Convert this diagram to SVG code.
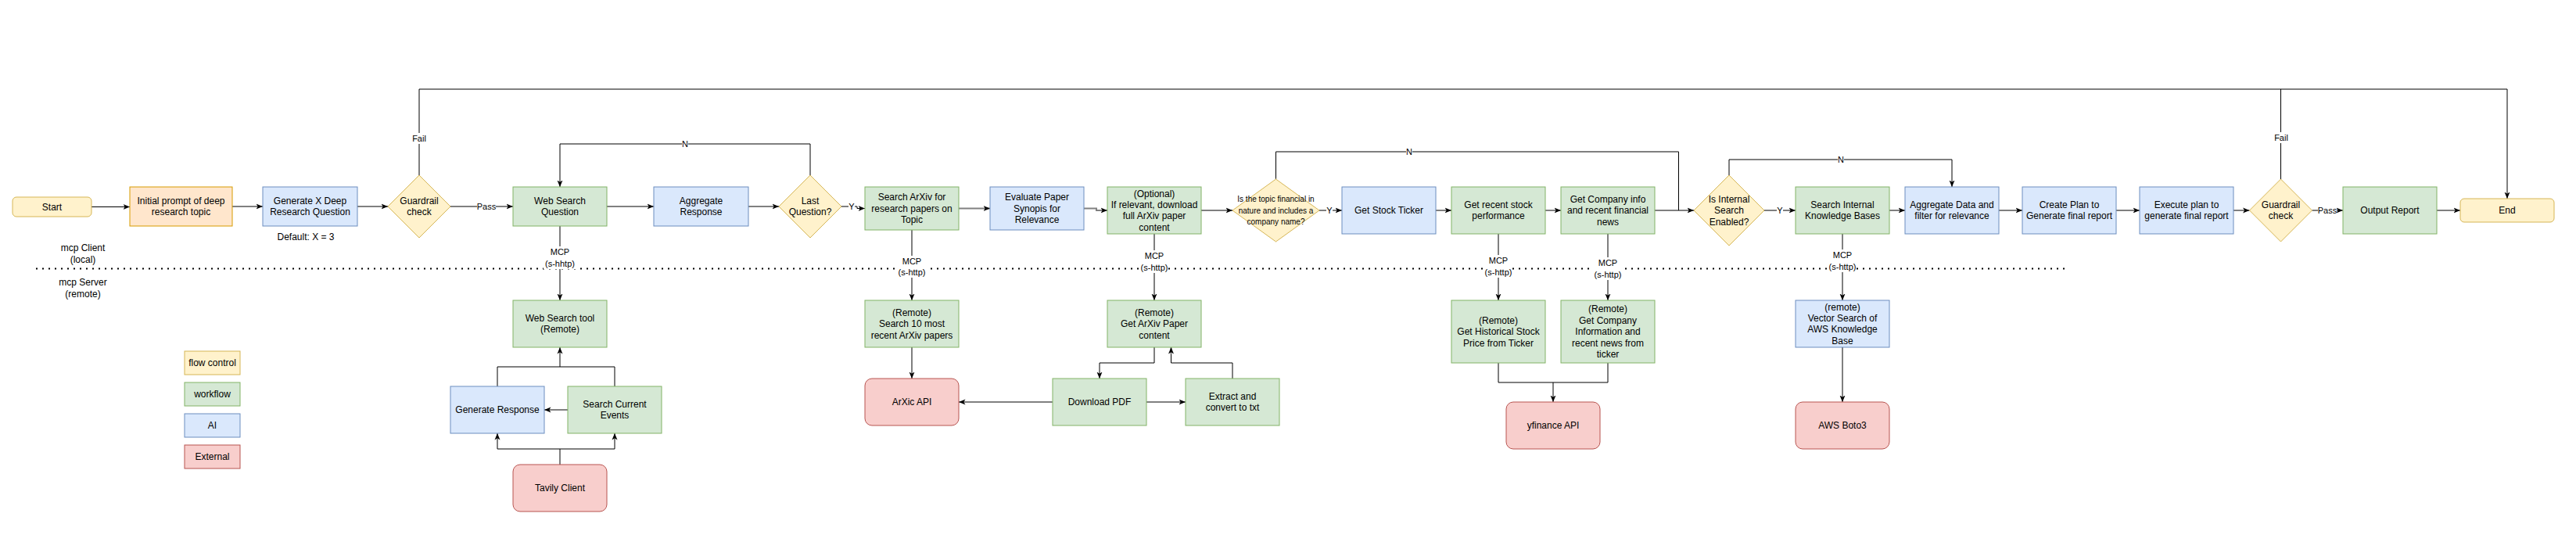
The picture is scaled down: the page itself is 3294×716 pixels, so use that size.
<svg xmlns="http://www.w3.org/2000/svg" width="3294" height="716" viewBox="0 0 3294 716">
<style>
text{font-family:"Liberation Sans",Arial,sans-serif;font-size:12px;text-anchor:middle;fill:#000}
.y{fill:#fff2cc;stroke:#d6b656}
.g{fill:#d5e8d4;stroke:#82b366}
.b{fill:#dae8fc;stroke:#6c8ebf}
.r{fill:#f8cecc;stroke:#b85450}
.o{fill:#ffe6cc;stroke:#d79b00}
.e{fill:none;stroke:#000;stroke-width:1;marker-end:url(#ah)}
.p{fill:none;stroke:#000;stroke-width:1}
.gr{fill:none;stroke:#808080;stroke-width:2;marker-end:url(#ah)}
.lbl{font-size:11px}
.lb{fill:#fff}
.sm{font-size:10px}
</style>
<defs>
<marker id="ah" markerUnits="userSpaceOnUse" markerWidth="9" markerHeight="8" viewBox="0 0 9 8" refX="8.5" refY="4" orient="auto">
<path d="M0,0.5 L8.5,4 L0,7.5 L2.2,4 Z" fill="#000"/>
</marker>
</defs>
<rect width="3294" height="716" fill="#fff"/>
<line x1="46" y1="343.5" x2="2640" y2="343.5" stroke="#000" stroke-width="2" stroke-dasharray="2 6"/>
<g id="connectors">
<path class="e" d="M117,264.5 H166"/>
<path class="e" d="M297,264 H336"/>
<path class="e" d="M457,264 H496"/>
<path class="e" d="M576,264 H656"/>
<path class="e" d="M536,224 V114 H3206 V254"/>
<path class="e" d="M776,264 H836"/>
<path class="e" d="M957,264 H996"/>
<path class="e" d="M1036,224 V184 H716 V239"/>
<path class="e" d="M1076,264 H1096 V266.5 H1106"/>
<path class="gr" d="M1226,266.5 H1266"/>
<path class="gr" d="M1386,266.5 H1402 V269 H1416"/>
<path class="e" d="M1536,269 H1576"/>
<path class="e" d="M1687,269 H1716"/>
<path class="p" d="M1631.5,229 V194 H2146.5 V269"/>
<path class="e" d="M1836,269 H1856"/>
<path class="e" d="M1976,269 H1996"/>
<path class="e" d="M2116,269 H2166"/>
<path class="e" d="M2256,269 H2296"/>
<path class="e" d="M2211,224 V204 H2496 V239"/>
<path class="e" d="M2416,269 H2436"/>
<path class="e" d="M2556,269 H2586"/>
<path class="e" d="M2706,269 H2736"/>
<path class="e" d="M2856,269 H2876.5"/>
<path class="e" d="M2956.5,269 H2996"/>
<path class="p" d="M2916.5,229 V114"/>
<path class="e" d="M3116,269 H3146"/>
<path class="e" d="M716,289 V384"/>
<path class="e" d="M1166,294 V384"/>
<path class="e" d="M1476,299 V384"/>
<path class="e" d="M1916,299 V384"/>
<path class="e" d="M2056,299 V384"/>
<path class="e" d="M2356,299 V384"/>
<path class="e" d="M636,494 V469 H716 V444"/>
<path class="p" d="M786,494 V469 H716"/>
<path class="e" d="M726,524 H696"/>
<path class="e" d="M716,594 V574 H636 V554"/>
<path class="e" d="M716,574 H786 V554"/>
<path class="e" d="M1166,444 V484"/>
<path class="e" d="M1476,444 V464 H1406 V484"/>
<path class="p" d="M1576,484 V464 H1497.5 V452"/>
<path class="gr" d="M1497.5,453 V444"/>
<path class="e" d="M1346,514 H1226"/>
<path class="e" d="M1466,514 H1516"/>
<path class="e" d="M1916,464 V489 H1986 V514"/>
<path class="p" d="M2056,464 V489 H1986"/>
<path class="e" d="M2356,444 V514"/>
<g id="edge-labels">
<rect class="lb" x="527" y="170" width="18" height="14"/><text class="lbl" x="536" y="180.9">Fail</text>
<rect class="lb" x="610" y="257" width="24" height="14"/><text class="lbl" x="622" y="267.9">Pass</text>
<rect class="lb" x="872" y="177" width="8" height="14"/><text class="lbl" x="876" y="187.9">N</text>
<rect class="lb" x="1085" y="257" width="8" height="14"/><text class="lbl" x="1089" y="268.4">Y</text>
<rect class="lb" x="1798" y="187" width="8" height="14"/><text class="lbl" x="1802" y="197.9">N</text>
<rect class="lb" x="1696" y="262" width="8" height="14"/><text class="lbl" x="1700" y="272.9">Y</text>
<rect class="lb" x="2272" y="262" width="8" height="14"/><text class="lbl" x="2276" y="272.9">Y</text>
<rect class="lb" x="2350" y="197" width="8" height="14"/><text class="lbl" x="2354" y="207.9">N</text>
<rect class="lb" x="2908" y="169" width="18" height="14"/><text class="lbl" x="2917" y="179.9">Fail</text>
<rect class="lb" x="2964" y="262" width="24" height="14"/><text class="lbl" x="2976" y="272.9">Pass</text>
<rect class="lb" x="695" y="315" width="42" height="29"/><text class="lbl" x="716" y="325.9">MCP</text><text class="lbl" x="716" y="340.9">(s-hhtp)</text>
<rect class="lb" x="1148" y="327" width="36" height="28"/><text class="lbl" x="1166" y="337.9">MCP</text><text class="lbl" x="1166" y="351.9">(s-http)</text>
<rect class="lb" x="1458" y="320" width="36" height="29"/><text class="lbl" x="1476" y="330.9">MCP</text><text class="lbl" x="1476" y="345.9">(s-http)</text>
<rect class="lb" x="1898" y="326" width="36" height="29"/><text class="lbl" x="1916" y="336.9">MCP</text><text class="lbl" x="1916" y="351.9">(s-http)</text>
<rect class="lb" x="2038" y="329" width="36" height="29"/><text class="lbl" x="2056" y="339.9">MCP</text><text class="lbl" x="2056" y="354.9">(s-http)</text>
<rect class="lb" x="2338" y="319" width="36" height="29"/><text class="lbl" x="2356" y="329.9">MCP</text><text class="lbl" x="2356" y="344.9">(s-http)</text>
</g>
</g>
<g id="start"><rect class="y" x="16" y="252" width="101" height="25" rx="5"/><text x="66.5" y="268.7">Start</text></g>
<g id="initial-prompt"><rect class="o" x="166" y="239" width="131" height="50"/><text x="231.5" y="261">Initial prompt of deep</text><text x="231.5" y="275.4">research topic</text></g>
<g id="generate-questions"><rect class="b" x="336" y="239" width="121" height="50"/><text x="396.5" y="261">Generate X Deep</text><text x="396.5" y="275.4">Research Question</text></g>
<g id="default-note"><text x="391" y="307.2">Default: X = 3</text></g>
<g id="guardrail-1"><path class="y" d="M536,224 L576,264 L536,304 L496,264 Z"/><text x="536" y="261">Guardrail</text><text x="536" y="275.4">check</text></g>
<g id="web-search-question"><rect class="g" x="656" y="239" width="120" height="50"/><text x="716" y="261">Web Search</text><text x="716" y="275.4">Question</text></g>
<g id="aggregate-response"><rect class="b" x="836" y="239" width="121" height="50"/><text x="896.5" y="261">Aggregate</text><text x="896.5" y="275.4">Response</text></g>
<g id="last-question"><path class="y" d="M1036,224 L1076,264 L1036,304 L996,264 Z"/><text x="1036" y="261">Last</text><text x="1036" y="275.4">Question?</text></g>
<g id="search-arxiv"><rect class="g" x="1106" y="239" width="120" height="55"/><text x="1166" y="256.3">Search ArXiv for</text><text x="1166" y="270.7">research papers on</text><text x="1166" y="285.1">Topic</text></g>
<g id="evaluate-paper"><rect class="b" x="1266" y="239" width="120" height="55"/><text x="1326" y="256.3">Evaluate Paper</text><text x="1326" y="270.7">Synopis for</text><text x="1326" y="285.1">Relevance</text></g>
<g id="optional-download"><rect class="g" x="1416" y="239" width="120" height="60"/><text x="1476" y="251.6">(Optional)</text><text x="1476" y="266">If relevant, download</text><text x="1476" y="280.4">full ArXiv paper</text><text x="1476" y="294.8">content</text></g>
<g id="financial-check"><path class="y" d="M1631.5,229 L1687,269 L1631.5,309 L1576,269 Z"/><text class="sm" x="1631.5" y="258.2">Is the topic financial in</text><text class="sm" x="1631.5" y="272.5">nature and includes a</text><text class="sm" x="1631.5" y="286.8">company name?</text></g>
<g id="stock-ticker"><rect class="b" x="1716" y="239" width="120" height="60"/><text x="1776" y="273.2">Get Stock Ticker</text></g>
<g id="stock-performance"><rect class="g" x="1856" y="239" width="120" height="60"/><text x="1916" y="266">Get recent stock</text><text x="1916" y="280.4">performance</text></g>
<g id="company-info"><rect class="g" x="1996" y="239" width="120" height="60"/><text x="2056" y="258.8">Get Company info</text><text x="2056" y="273.2">and recent financial</text><text x="2056" y="287.6">news</text></g>
<g id="internal-check"><path class="y" d="M2211,224 L2256,269 L2211,314 L2166,269 Z"/><text x="2211" y="258.8">Is Internal</text><text x="2211" y="273.2">Search</text><text x="2211" y="287.6">Enabled?</text></g>
<g id="search-internal"><rect class="g" x="2296" y="239" width="120" height="60"/><text x="2356" y="266">Search Internal</text><text x="2356" y="280.4">Knowledge Bases</text></g>
<g id="aggregate-data"><rect class="b" x="2436" y="239" width="120" height="60"/><text x="2496" y="266">Aggregate Data and</text><text x="2496" y="280.4">filter for relevance</text></g>
<g id="create-plan"><rect class="b" x="2586" y="239" width="120" height="60"/><text x="2646" y="266">Create Plan to</text><text x="2646" y="280.4">Generate final report</text></g>
<g id="execute-plan"><rect class="b" x="2736" y="239" width="120" height="60"/><text x="2796" y="266">Execute plan to</text><text x="2796" y="280.4">generate final report</text></g>
<g id="guardrail-2"><path class="y" d="M2916.5,229 L2956.5,269 L2916.5,309 L2876.5,269 Z"/><text x="2916.5" y="266">Guardrail</text><text x="2916.5" y="280.4">check</text></g>
<g id="output-report"><rect class="g" x="2996" y="239" width="120" height="60"/><text x="3056" y="273.2">Output Report</text></g>
<g id="end"><rect class="y" x="3146" y="254" width="120" height="30" rx="5"/><text x="3206" y="273.2">End</text></g>
<g id="web-search-tool"><rect class="g" x="656" y="384" width="120" height="60"/><text x="716" y="411">Web Search tool</text><text x="716" y="425.4">(Remote)</text></g>
<g id="generate-response"><rect class="b" x="576" y="494" width="120" height="60"/><text x="636" y="528.2">Generate Response</text></g>
<g id="search-current-events"><rect class="g" x="726" y="494" width="120" height="60"/><text x="786" y="521">Search Current</text><text x="786" y="535.4">Events</text></g>
<g id="tavily-client"><rect class="r" x="656" y="594" width="120" height="60" rx="9"/><text x="716" y="628.2">Tavily Client</text></g>
<g id="remote-search-arxiv"><rect class="g" x="1106" y="384" width="120" height="60"/><text x="1166" y="403.8">(Remote)</text><text x="1166" y="418.2">Search 10 most</text><text x="1166" y="432.6">recent ArXiv papers</text></g>
<g id="arxic-api"><rect class="r" x="1106" y="484" width="120" height="60" rx="9"/><text x="1166" y="518.2">ArXic API</text></g>
<g id="remote-get-arxiv"><rect class="g" x="1416" y="384" width="120" height="60"/><text x="1476" y="403.8">(Remote)</text><text x="1476" y="418.2">Get ArXiv Paper</text><text x="1476" y="432.6">content</text></g>
<g id="download-pdf"><rect class="g" x="1346" y="484" width="120" height="60"/><text x="1406" y="518.2">Download PDF</text></g>
<g id="extract-txt"><rect class="g" x="1516" y="484" width="120" height="60"/><text x="1576" y="511">Extract and</text><text x="1576" y="525.4">convert to txt</text></g>
<g id="remote-historical"><rect class="g" x="1856" y="384" width="120" height="80"/><text x="1916" y="413.8">(Remote)</text><text x="1916" y="428.2">Get Historical Stock</text><text x="1916" y="442.6">Price from Ticker</text></g>
<g id="remote-company"><rect class="g" x="1996" y="384" width="120" height="80"/><text x="2056" y="399.4">(Remote)</text><text x="2056" y="413.8">Get Company</text><text x="2056" y="428.2">Information and</text><text x="2056" y="442.6">recent news from</text><text x="2056" y="457">ticker</text></g>
<g id="yfinance-api"><rect class="r" x="1926" y="514" width="120" height="60" rx="9"/><text x="1986" y="548.2">yfinance API</text></g>
<g id="vector-search"><rect class="b" x="2296" y="384" width="120" height="60"/><text x="2356" y="396.6">(remote)</text><text x="2356" y="411">Vector Search of</text><text x="2356" y="425.4">AWS Knowledge</text><text x="2356" y="439.8">Base</text></g>
<g id="aws-boto3"><rect class="r" x="2296" y="514" width="120" height="60" rx="9"/><text x="2356" y="548.2">AWS Boto3</text></g>
<g id="mcp-client-label"><text x="106" y="321.2">mcp Client</text><text x="106" y="336.2">(local)</text></g>
<g id="mcp-server-label"><text x="106" y="365.2">mcp Server</text><text x="106" y="380.2">(remote)</text></g>
<g id="legend-flow-control"><rect class="y" x="236" y="449" width="71" height="30"/><text x="271.5" y="468.2">flow control</text></g>
<g id="legend-workflow"><rect class="g" x="236" y="489" width="71" height="30"/><text x="271.5" y="508.2">workflow</text></g>
<g id="legend-ai"><rect class="b" x="236" y="529" width="71" height="30"/><text x="271.5" y="548.2">AI</text></g>
<g id="legend-external"><rect class="r" x="236" y="569" width="71" height="30"/><text x="271.5" y="588.2">External</text></g>
</svg>
